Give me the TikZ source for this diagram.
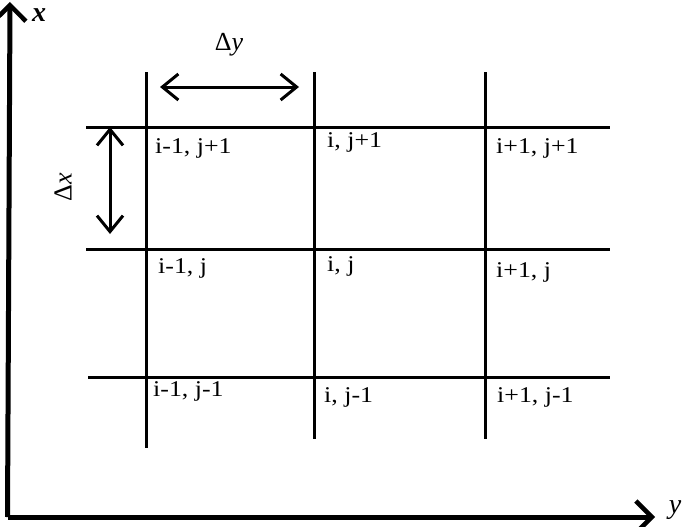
\documentclass[tikz,border=0pt]{standalone}
\usepackage{fontspec}
\setmainfont{Liberation Serif}
\usetikzlibrary{arrows.meta}
\begin{document}
\begin{tikzpicture}[x=1pt,y=-1pt,
  gridline/.style={line width=3pt},
  axisline/.style={line width=5pt,-{Straight Barb[length=16pt,width=32pt,line width=4.5pt]}},
  dimarrow/.style={line width=3pt,{Straight Barb[length=16pt,width=26pt]}-{Straight Barb[length=16pt,width=26pt]}},
  lab/.style={anchor=west,inner sep=0pt,xscale=1.15,font=\fontsize{22.5}{26}\selectfont},
  axlab/.style={inner sep=0pt,font=\fontsize{28}{32}\selectfont\bfseries\itshape},
  dimlab/.style={inner sep=0pt,font=\fontsize{26}{30}\selectfont}]
\useasboundingbox (0,0) rectangle (685,527);
% axes
\coordinate (O) at (10,517);
\coordinate (Xtop) at (10,2);
\coordinate (Yend) at (655,517);
\draw[axisline] ([xshift=-2.5pt]O) -- (Xtop);
\draw[axisline] ([xshift=-2.5pt]O) -- (Yend);
\node[axlab] (xl) at (39,15) {x};
\node[axlab,font=\fontsize{28}{32}\selectfont\itshape] (yl) at (675,510) {y};
% grid
\coordinate (v1t) at (146,72); \coordinate (v1b) at (146,448);
\coordinate (v2t) at (314,72); \coordinate (v2b) at (314,439);
\coordinate (v3t) at (485,72); \coordinate (v3b) at (485,439);
\coordinate (h1l) at (86,127); \coordinate (h1r) at (610,127);
\coordinate (h2l) at (86,249); \coordinate (h2r) at (610,249);
\coordinate (h3l) at (88,377); \coordinate (h3r) at (610,377);
\draw[gridline] (v1t) -- (v1b);
\draw[gridline] (v2t) -- (v2b);
\draw[gridline] (v3t) -- (v3b);
\draw[gridline] (h1l) -- (h1r);
\draw[gridline] (h2l) -- (h2r);
\draw[gridline] (h3l) -- (h3r);
% dimension arrows
\coordinate (dyl) at (160,87); \coordinate (dyr) at (299,87);
\draw[dimarrow] (dyl) -- (dyr);
\node[dimlab] (dy) at (229,45) {Δ\textit{y}};
\coordinate (dxt) at (110,127); \coordinate (dxb) at (110,234);
\draw[dimarrow] (dxt) -- (dxb);
\node[dimlab,rotate=90] (dx) at (63,187) {Δ\textit{x}};
% labels
\node[lab] (a1) at (155,148) {i-1, j+1};
\node[lab] (a2) at (327,142) {i, j+1};
\node[lab] (a3) at (496,148) {i+1, j+1};
\node[lab] (b1) at (158,268) {i-1, j};
\node[lab] (b2) at (327,266) {i, j};
\node[lab] (b3) at (496,272) {i+1, j};
\node[lab] (c1) at (153,391) {i-1, j-1};
\node[lab] (c2) at (324,397) {i, j-1};
\node[lab] (c3) at (497,397) {i+1, j-1};
\end{tikzpicture}
\end{document}
